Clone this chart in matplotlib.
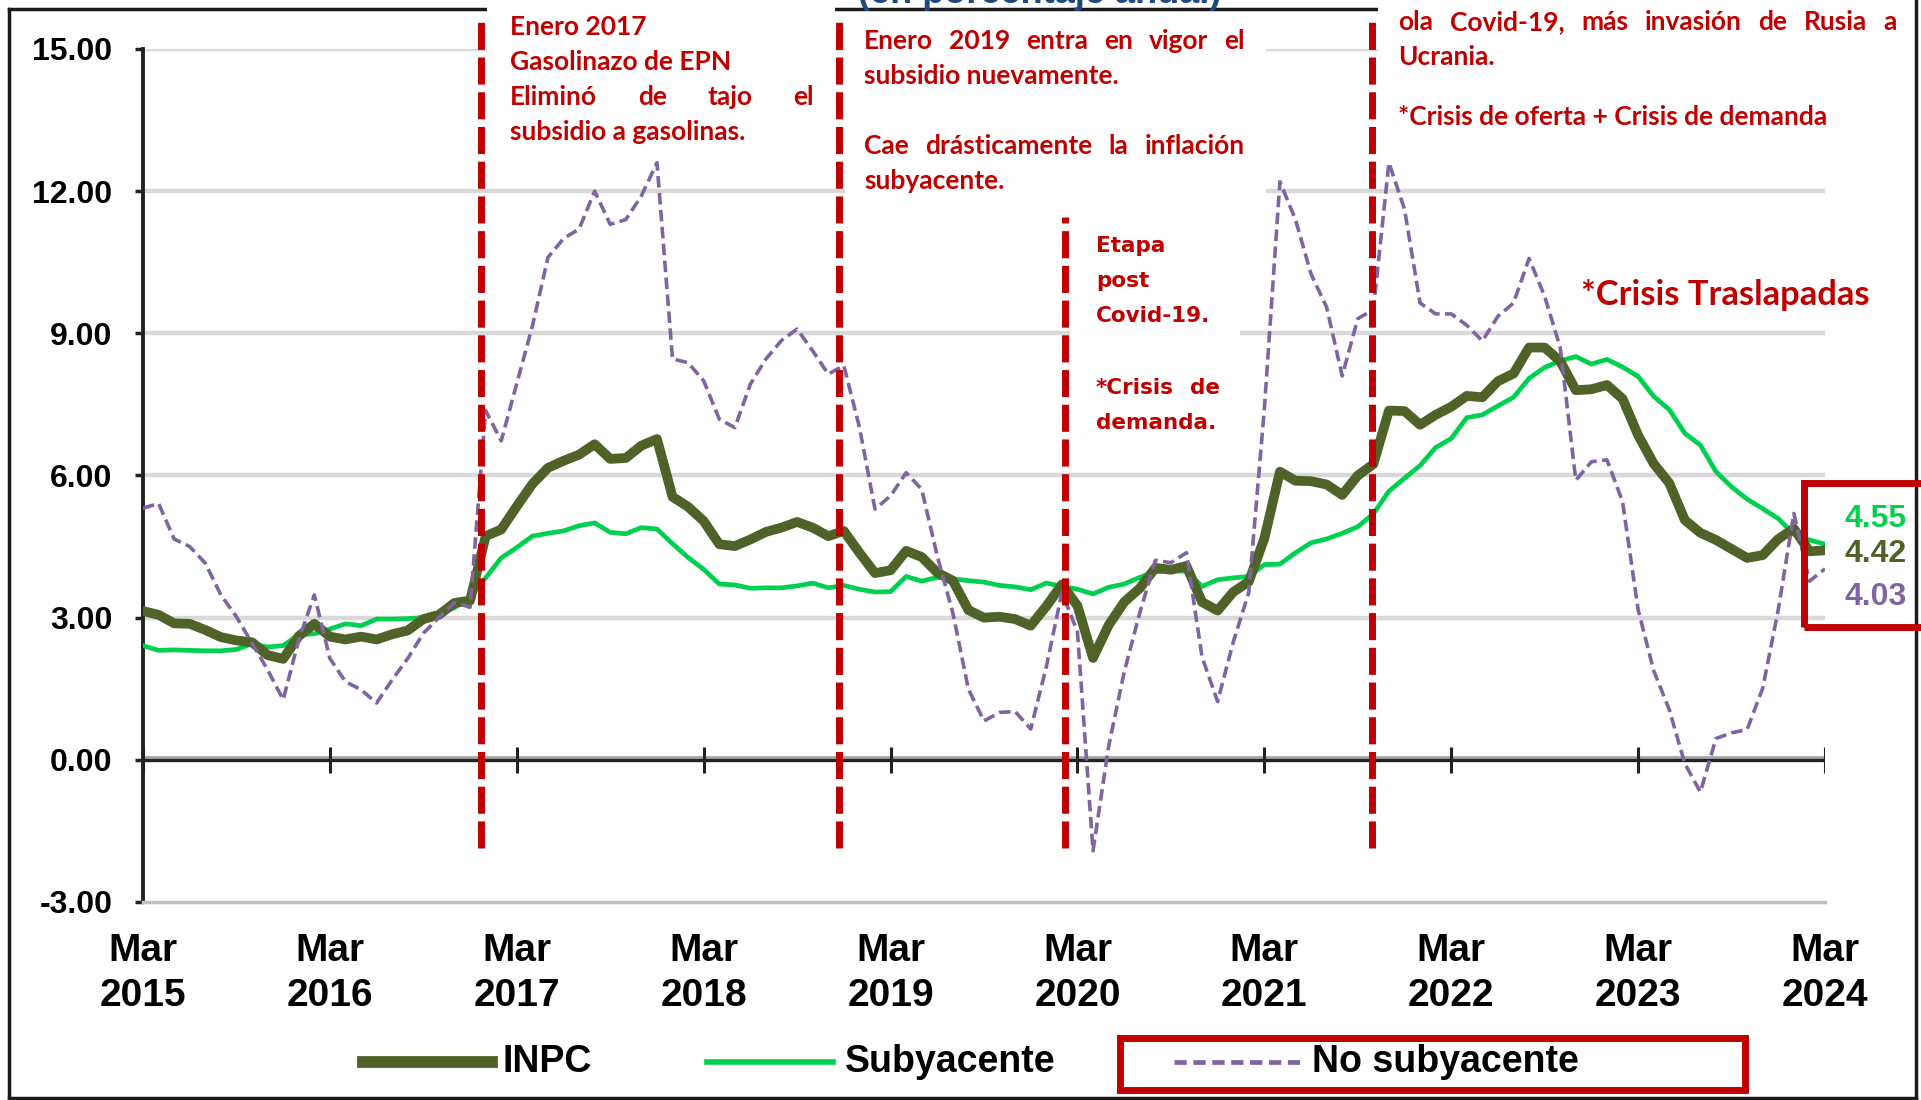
import numpy as np
import matplotlib
matplotlib.use("Agg")
import matplotlib.pyplot as plt
from matplotlib.lines import Line2D
from matplotlib.patches import Rectangle

# inflacion anual (%), mensual de mar 2015 a mar 2024
inpc = [3.14, 3.06, 2.88, 2.87, 2.74, 2.59, 2.52, 2.48, 2.21, 2.13,
        2.61, 2.87, 2.60, 2.54, 2.60, 2.54, 2.65, 2.73, 2.97, 3.06, 3.31, 3.36,
        4.72, 4.86, 5.35, 5.82, 6.16, 6.31, 6.44, 6.66, 6.35, 6.37, 6.63, 6.77,
        5.55, 5.34, 5.04, 4.55, 4.51, 4.65, 4.81, 4.90, 5.02, 4.90, 4.72, 4.83,
        4.37, 3.94, 4.00, 4.41, 4.28, 3.95, 3.78, 3.16, 3.00, 3.02, 2.97, 2.83,
        3.24, 3.70, 3.25, 2.15, 2.84, 3.33, 3.62, 4.05, 4.01, 4.09, 3.33, 3.15,
        3.54, 3.76, 4.67, 6.08, 5.89, 5.88, 5.81, 5.59, 6.00, 6.24, 7.37, 7.36,
        7.07, 7.28, 7.45, 7.68, 7.65, 7.99, 8.15, 8.70, 8.70, 8.41, 7.80, 7.82,
        7.91, 7.62, 6.85, 6.25, 5.84, 5.06, 4.79, 4.64, 4.45, 4.26, 4.32, 4.66,
        4.88, 4.40, 4.42]

subyacente = [2.41, 2.31, 2.32, 2.31, 2.30, 2.30, 2.33, 2.45, 2.38, 2.41,
              2.64, 2.66, 2.76, 2.87, 2.83, 2.97, 2.97, 2.98, 3.00, 3.09, 3.21, 3.44,
              3.84, 4.26, 4.48, 4.72, 4.78, 4.83, 4.94, 5.00, 4.80, 4.77, 4.90, 4.87,
              4.56, 4.27, 4.02, 3.71, 3.69, 3.62, 3.63, 3.63, 3.67, 3.73, 3.63, 3.68,
              3.60, 3.54, 3.55, 3.87, 3.77, 3.85, 3.82, 3.78, 3.75, 3.68, 3.65, 3.59,
              3.73, 3.66, 3.60, 3.50, 3.64, 3.71, 3.85, 3.97, 3.99, 3.98, 3.66, 3.80,
              3.84, 3.87, 4.12, 4.13, 4.37, 4.58, 4.66, 4.78, 4.92, 5.19, 5.67, 5.94,
              6.21, 6.59, 6.78, 7.22, 7.28, 7.47, 7.65, 8.05, 8.28, 8.42, 8.51, 8.35,
              8.45, 8.29, 8.09, 7.67, 7.39, 6.89, 6.64, 6.08, 5.76, 5.50, 5.30, 5.09,
              4.76, 4.64, 4.55]

no_subyacente = [5.31, 5.41, 4.66, 4.50, 4.15, 3.48, 3.02, 2.46, 1.90, 1.27,
                 2.53, 3.48, 2.14, 1.65, 1.48, 1.20, 1.69, 2.14, 2.67, 3.00, 3.32, 3.22,
                 7.37, 6.73, 7.94, 9.15, 10.60, 11.00, 11.20, 12.00, 11.30, 11.40, 11.90, 12.60,
                 8.46, 8.38, 8.00, 7.19, 7.01, 7.93, 8.46, 8.85, 9.09, 8.63, 8.14, 8.32,
                 7.02, 5.29, 5.57, 6.06, 5.71, 4.30, 3.10, 1.49, 0.82, 1.00, 1.02, 0.65,
                 1.96, 3.53, 2.70, -1.92, 0.28, 1.85, 3.10, 4.21, 4.16, 4.37, 2.17, 1.23,
                 2.48, 3.53, 7.40, 12.20, 11.40, 10.25, 9.55, 8.10, 9.31, 9.50, 12.60, 11.62,
                 9.64, 9.41, 9.41, 9.17, 8.84, 9.36, 9.64, 10.58, 9.78, 8.70, 5.90, 6.29,
                 6.33, 5.45, 3.17, 1.88, 1.06, -0.08, -0.68, 0.45, 0.57, 0.64, 1.51, 3.17,
                 5.20, 3.77, 4.03]

anios = list(range(2015, 2025))
etiquetas_x = ["Mar\n%d" % a for a in anios]
# lineas rojas de eventos (meses desde mar 2015)
eventos = [21.7, 44.7, 59.2, 78.9]

W, H = 1921, 1100
ROJO = "#C00000"
C_INPC = "#4F6228"
C_SUB = "#00D050"
C_NOSUB = "#8064A2"

plt.rcParams["font.family"] = ["Liberation Sans", "DejaVu Sans"]
plt.rcParams["font.weight"] = "bold"

fig = plt.figure(figsize=(W / 100, H / 100), dpi=100)
fig.patch.set_facecolor("white")


def fx(x):
    return x / W


def fy(y):
    return 1 - y / H


ax = fig.add_axes([fx(143), fy(902), (1825 - 143) / W, (902 - 49) / H])
x = np.arange(len(inpc))
ax.set_xlim(0, 108)
ax.set_ylim(-3, 15)

for v in [3, 6, 9, 12, 15]:
    ax.axhline(v, color="#D9D9D9", lw=3.2, zorder=1)

ax.axhline(0.07, color="#A6A6A6", lw=2, zorder=2)
ax.axhline(0, color="#222222", lw=2.4, zorder=3)
ax.vlines(x[::12], -0.27, 0.27, color="#222222", lw=2.2, zorder=3)

ax.plot(x, subyacente, color=C_SUB, lw=3.4, zorder=5)
ax.plot(x, inpc, color=C_INPC, lw=7, zorder=6, solid_joinstyle="round")
ax.plot(x, no_subyacente, color=C_NOSUB, lw=2.6, dashes=(3.2, 1.5), zorder=7)

for i, e in enumerate(eventos):
    top = 11.46 if i == 2 else 15.6
    ax.plot([e, e], [-1.86, top], color=ROJO, lw=5, dashes=(3.9, 1.1),
            zorder=8, clip_on=False)

for s in ["top", "right"]:
    ax.spines[s].set_visible(False)
ax.spines["left"].set_color("#222222")
ax.spines["left"].set_linewidth(2.8)
ax.spines["bottom"].set_color("#BFBFBF")
ax.spines["bottom"].set_linewidth(2.5)

ax.set_yticks(range(-3, 16, 3))
ax.set_yticklabels(["%.2f" % v for v in range(-3, 16, 3)])
ax.set_xticks(x[::12])
ax.set_xticklabels(etiquetas_x)
ax.tick_params(axis="y", length=6, width=2.5, color="#222222", pad=16, labelsize=23)
ax.tick_params(axis="x", length=0, pad=22, labelsize=28)
for t in ax.get_xticklabels():
    t.set_linespacing(1.33)

# marco de la figura
borde = dict(color="#1a1a1a", lw=2.5, transform=fig.transFigure)
for xs, ys in [([9, 487], [9, 9]), ([835, 1378], [9, 9]), ([9, 9], [9, 1098]),
               ([9, 1916], [1098, 1098]), ([1916, 1916], [0, 1098])]:
    fig.add_artist(Line2D([fx(v) for v in xs], [fy(v) for v in ys], **borde))

# titulo, casi todo fuera del recorte
fig.text(fx(1040), fy(3), "(en porcentaje anual)", ha="center", va="baseline",
         fontsize=26, color="#1F497D")

# cajas blancas de las notas
for x0, y0, x1, y1 in [(487, 0, 835, 150), (845, 13, 1266, 215),
                       (1070, 215, 1240, 445), (1378, 0, 1912, 140)]:
    fig.add_artist(Rectangle((fx(x0), fy(y1)), (x1 - x0) / W, (y1 - y0) / H,
                             transform=fig.transFigure, facecolor="white",
                             edgecolor="none", zorder=5))

rend = fig.canvas.get_renderer()
nota = dict(color=ROJO, fontsize=19, fontweight="bold", family=["Lato", "DejaVu Sans"],
            zorder=6)
nota3 = dict(nota, fontsize=15.5, family=["DejaVu Sans"])


def linea(texto, x0, y, x1=None, **kw):
    if x1 is None:
        fig.text(fx(x0), fy(y), texto, ha="left", va="baseline", **kw)
        return
    ts = [fig.text(0, fy(y), p, ha="left", va="baseline", **kw) for p in texto.split()]
    anchos = [t.get_window_extent(rend).width for t in ts]
    hueco = (x1 - x0 - sum(anchos)) / (len(ts) - 1)
    pos = x0
    for t, a in zip(ts, anchos):
        t.set_x(fx(pos))
        pos += a + hueco


linea("Enero 2017", 510, 35, **nota)
linea("Gasolinazo de EPN", 510, 70, **nota)
linea("Eliminó de tajo el", 510, 105, 814, **nota)
linea("subsidio a gasolinas.", 510, 140, **nota)

linea("Enero 2019 entra en vigor el", 864, 49, 1245, **nota)
linea("subsidio nuevamente.", 864, 84, **nota)
linea("Cae drásticamente la inflación", 864, 154, 1245, **nota)
linea("subyacente.", 864, 189, **nota)

linea("Etapa", 1096, 252, **nota3)
linea("post", 1096, 287, **nota3)
linea("Covid-19.", 1096, 322, **nota3)
linea("*Crisis de", 1096, 394, 1220, **nota3)
linea("demanda.", 1096, 429, **nota3)

linea("ola Covid-19, más invasión de Rusia a", 1398, 30, 1897, **nota)
linea("Ucrania.", 1398, 65, **nota)
linea("*Crisis de oferta + Crisis de demanda", 1398, 125, **nota)

linea("*Crisis Traslapadas", 1581, 305, **dict(nota, fontsize=24.8))

# valores finales
fig.add_artist(Rectangle((fx(1804), fy(627)), (W + 10 - 1804) / W, (627 - 483) / H,
                         transform=fig.transFigure, facecolor="none",
                         edgecolor=ROJO, lw=5, zorder=6))
for val, col, yb in [(subyacente[-1], C_SUB, 527), (inpc[-1], C_INPC, 562),
                     (no_subyacente[-1], C_NOSUB, 605)]:
    fig.text(fx(1907), fy(yb), "%.2f" % val, ha="right", va="baseline",
             fontsize=23, color=col, zorder=7)

# leyenda
ley_y = fy(1062)
fig.add_artist(Line2D([fx(363), fx(492)], [ley_y, ley_y], color=C_INPC, lw=8.5,
                      transform=fig.transFigure))
fig.text(fx(502), ley_y, "INPC", ha="left", va="center", fontsize=27)
fig.add_artist(Line2D([fx(707), fx(833)], [ley_y, ley_y], color=C_SUB, lw=4,
                      transform=fig.transFigure))
fig.text(fx(845), ley_y, "Subyacente", ha="left", va="center", fontsize=27)
fig.add_artist(Line2D([fx(1174), fx(1300)], [ley_y, ley_y], color=C_NOSUB, lw=3.4,
                      dashes=(2.6, 1.4), transform=fig.transFigure))
fig.text(fx(1312), ley_y, "No subyacente", ha="left", va="center", fontsize=27)
fig.add_artist(Rectangle((fx(1120), fy(1090)), (1745 - 1120) / W, (1090 - 1038) / H,
                         transform=fig.transFigure, facecolor="none",
                         edgecolor=ROJO, lw=5))

fig.savefig("out.png", dpi=100)
